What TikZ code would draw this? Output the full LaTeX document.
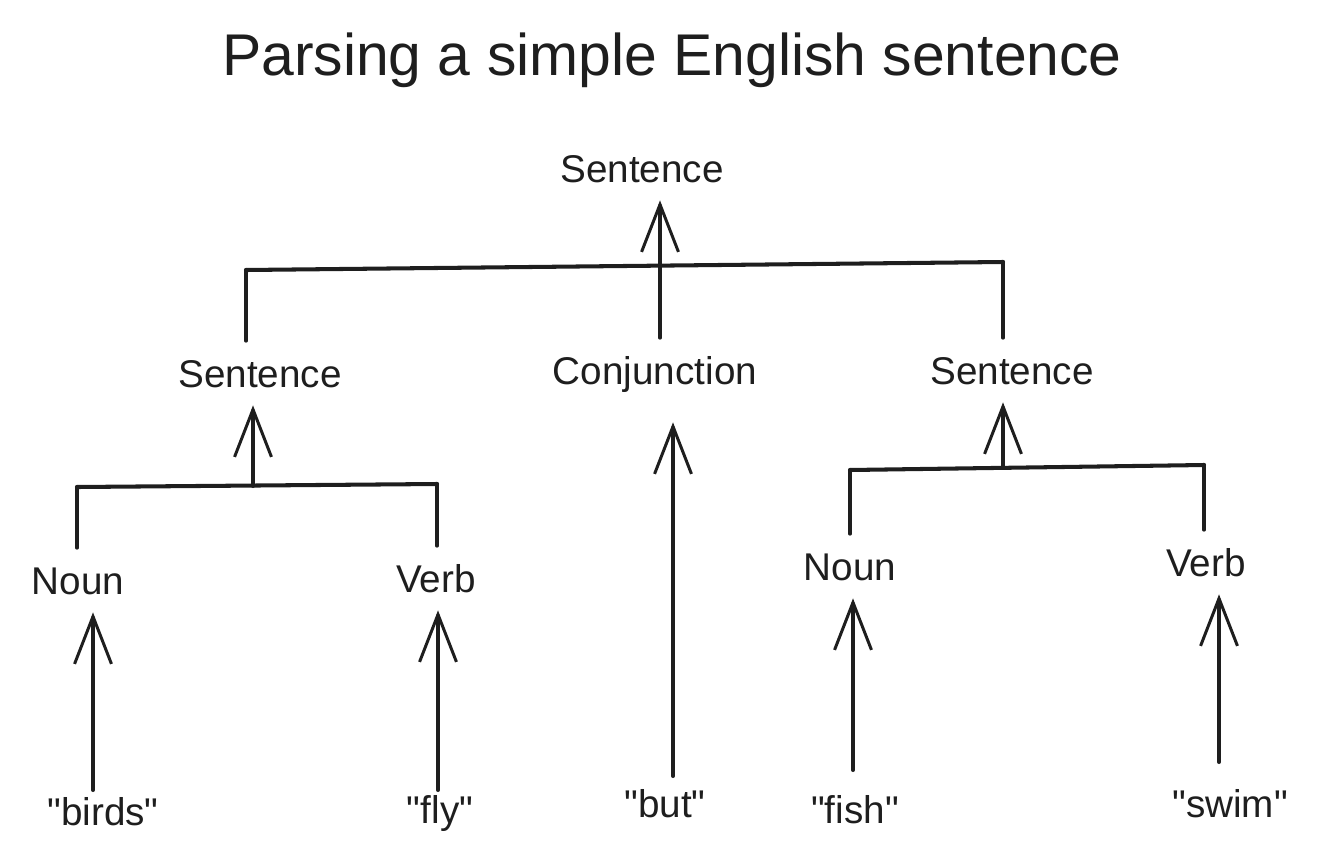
\documentclass[tikz,border=0pt]{standalone}
\usepackage{fontspec}
\setmainfont{Liberation Sans}
\usepackage{xcolor}
\usetikzlibrary{arrows.meta, positioning}
\definecolor{ink}{HTML}{1E1E1E}

\begin{document}
\begin{tikzpicture}[x=0.02cm, y=-0.02cm, ink, line cap=round, line join=round,
    lbl/.style={inner sep=0pt, text height=16pt, text depth=0pt, minimum height=1.28cm, font=\fontsize{22}{26}\selectfont},
    word/.style={inner sep=0pt, text height=16pt, text depth=0pt, font=\fontsize{22}{26}\selectfont},
    bar/.style={line width=2.3pt},
    arr/.style={line width=2.3pt, -{Straight Barb[length=27pt, width=21pt, line width=1.7pt]}}]

    \useasboundingbox (0,0) rectangle (1331,842);

    \node[font=\fontsize{33.5}{40}\selectfont] (title) at (672,60) {Parsing a simple English sentence};

    % Labels
    \node[lbl] (sTop) at (642,168) {Sentence};
    \node[lbl] (sLeft) at (260,373) {Sentence};
    \node[lbl] (conj) at (655,370) {Conjunction};
    \node[lbl] (sRight) at (1012,370) {Sentence};
    \node[lbl] (nounL) at (78,580) {Noun};
    \node[lbl] (verbL) at (436,578) {Verb};
    \node[lbl] (nounR) at (850,566) {Noun};
    \node[lbl] (verbR) at (1206,562) {Verb};

    % Words
    \node[word] (birds) at (103,811) {\textquotedbl birds\textquotedbl};
    \node[word] (fly) at (440,809) {\textquotedbl fly\textquotedbl};
    \node[word] (but) at (665,803) {\textquotedbl but\textquotedbl};
    \node[word] (fish) at (855,809) {\textquotedbl fish\textquotedbl};
    \node[word] (swim) at (1230,803) {\textquotedbl swim\textquotedbl};

    % Top level
    \coordinate (topBarL) at (246,270);
    \coordinate (topBarR) at (1003,262);
    \coordinate (topStem) at (660,266);
    \draw[bar] (topBarL) -- (topBarR);
    \draw[bar] (topBarL) -- (topBarL |- sLeft.north);
    \draw[bar] (topBarR) -- (topBarR |- sRight.north);
    \draw[arr] (topStem |- conj.north) -- (topStem |- sTop.south);

    % Left sentence
    \coordinate (leftBarL) at (77,487);
    \coordinate (leftBarR) at (437,484);
    \coordinate (leftStem) at (253,486);
    \draw[bar] (leftBarL) -- (leftBarR);
    \draw[bar] (leftBarL) -- (leftBarL |- nounL.north);
    \draw[bar] (leftBarR) -- (leftBarR |- verbL.north);
    \draw[arr] (leftStem) -- (leftStem |- sLeft.south);

    % Right sentence
    \coordinate (rightBarL) at (850,470);
    \coordinate (rightBarR) at (1204,465);
    \coordinate (rightStem) at (1003,467);
    \draw[bar] (rightBarL) -- (rightBarR);
    \draw[bar] (rightBarL) -- (rightBarL |- nounR.north);
    \draw[bar] (rightBarR) -- (rightBarR |- verbR.north);
    \draw[arr] (rightStem) -- (rightStem |- sRight.south);

    % Words up to labels
    \coordinate (birdsStem) at (93,790);
    \coordinate (flyStem) at (438,790);
    \coordinate (butStem) at (673,776);
    \coordinate (fishStem) at (853,770);
    \coordinate (swimStem) at (1219,762);
    \draw[arr] (birdsStem) -- (birdsStem |- nounL.south);
    \draw[arr] (flyStem) -- (flyStem |- verbL.south);
    \draw[arr, shorten >=0.4cm] (butStem) -- (butStem |- conj.south);
    \draw[arr] (fishStem) -- (fishStem |- nounR.south);
    \draw[arr] (swimStem) -- (swimStem |- verbR.south);
\end{tikzpicture}
\end{document}
